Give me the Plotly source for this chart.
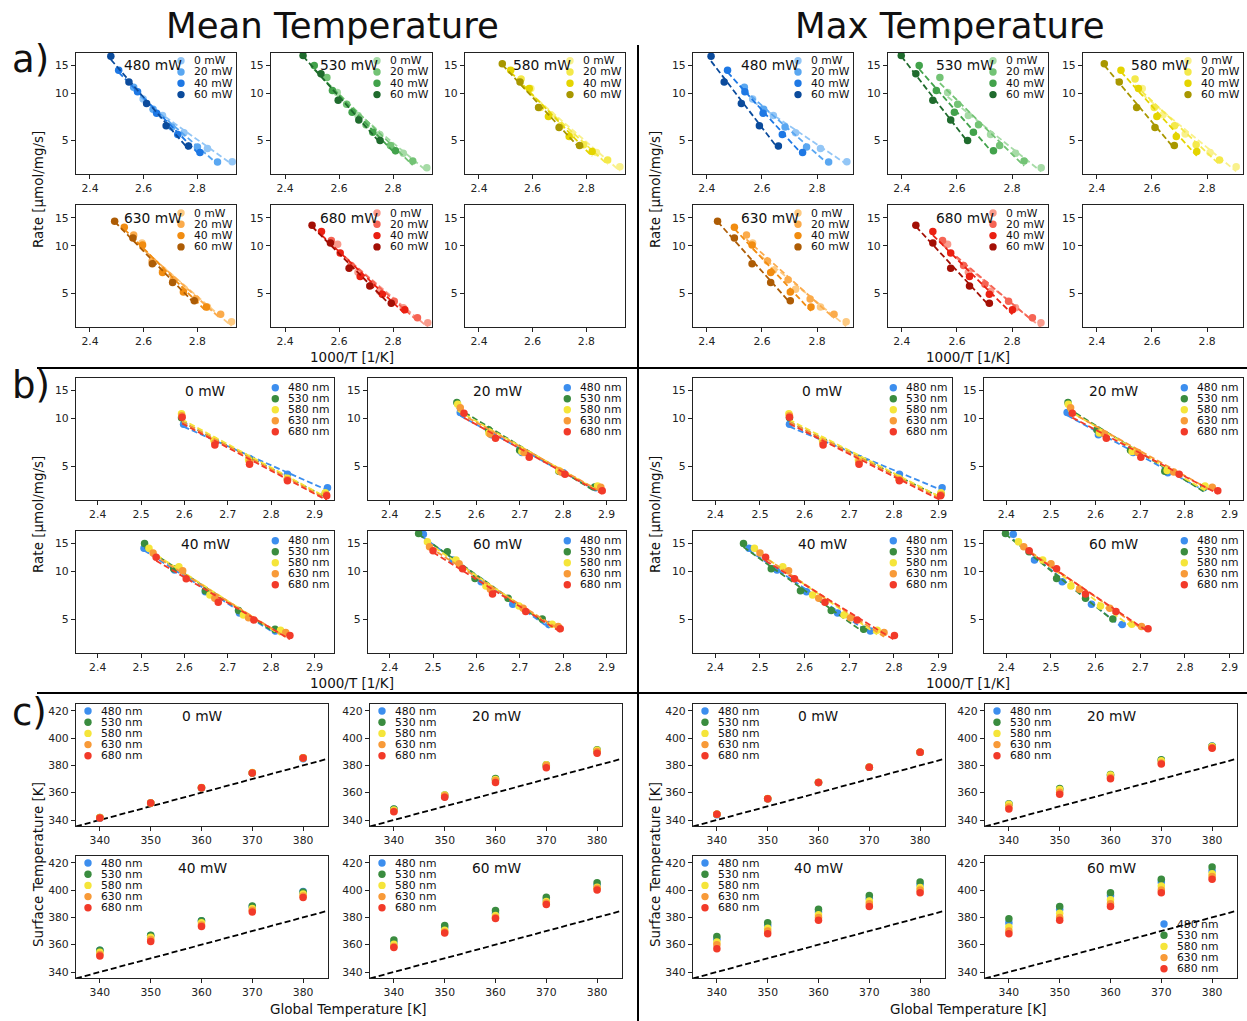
import numpy as np
import plotly.graph_objects as go

W, H = 1247, 1021
FONT = "DejaVu Sans"

# ---------------- data ----------------
GLOBAL_T = [340, 350, 360, 370, 380]
POWERS = [0, 20, 40, 60]
WAVELENGTHS = [480, 530, 580, 630, 680]

# reaction rate [umol/mg/s] at each global temperature
RATE_480 = {0: [3.66, 4.45, 5.6, 7.2, 9.2], 20: [3.65, 4.55, 6.1, 7.9, 10.9],
            40: [4.2, 5.45, 7.45, 10.2, 14.0], 60: [4.62, 6.2, 8.6, 11.8, 17.2]}
RATE_530 = {0: [3.35, 4.15, 5.45, 7.2, 10.1], 20: [3.7, 4.65, 6.3, 8.5, 12.6],
            40: [4.3, 5.65, 7.55, 10.4, 15.0], 60: [5.0, 6.76, 9.03, 13.3, 17.4]}
RATE_580 = {0: [3.4, 4.2, 5.5, 7.3, 10.7], 20: [3.75, 4.7, 6.2, 8.1, 12.3],
            40: [4.25, 5.3, 7.1, 10.7, 14.0], 60: [4.64, 6.05, 8.1, 11.8, 15.4]}
RATE_630 = {0: [3.3, 4.1, 5.3, 7.0, 10.4], 20: [3.68, 4.6, 6.1, 8.0, 11.7],
            40: [4.1, 5.1, 6.76, 10.1, 13.1], 60: [4.48, 5.85, 7.7, 11.2, 14.3]}
RATE_680 = {0: [3.25, 4.05, 5.15, 6.8, 10.2], 20: [3.5, 4.45, 5.7, 7.5, 10.8],
            40: [3.93, 4.93, 6.38, 9.0, 12.3], 60: [4.33, 5.57, 7.2, 10.4, 13.5]}

# mean surface temperature [K]
MEAN_T_480 = {0: [341.3, 352.4, 363.6, 374.5, 384.9], 20: [347.8, 357.1, 369.7, 379.5, 390.2],
              40: [355.9, 366.7, 377.6, 388.0, 398.9], 60: [361.4, 372.6, 383.0, 392.9, 403.6]}
MEAN_T_530 = {0: [341.9, 352.4, 363.6, 374.5, 385.6], 20: [348.1, 358.4, 370.4, 380.5, 391.4],
              40: [356.0, 367.0, 377.6, 388.3, 398.7], 60: [363.4, 374.1, 385.1, 394.8, 405.4]}
MEAN_T_580 = {0: [341.9, 352.4, 363.9, 374.8, 385.6], 20: [347.3, 358.4, 369.7, 380.4, 391.1],
              40: [354.4, 365.5, 376.1, 386.5, 397.1], 60: [360.4, 370.6, 381.4, 391.7, 402.1]}
MEAN_T_630 = {0: [341.6, 352.4, 363.6, 374.5, 385.5], 20: [346.4, 357.8, 369.0, 380.0, 390.2],
              40: [352.9, 363.9, 374.5, 385.2, 395.6], 60: [358.6, 369.3, 379.9, 390.6, 401.3]}
MEAN_T_680 = {0: [341.5, 352.4, 363.6, 374.5, 385.4], 20: [346.0, 356.6, 367.4, 378.2, 388.9],
              40: [351.7, 362.3, 373.4, 384.0, 394.5], 60: [358.0, 368.5, 379.2, 389.4, 400.0]}

# max surface temperature [K]
MAX_T_480 = {0: [343.9, 355.6, 367.4, 378.6, 389.7], 20: [351.9, 362.1, 372.6, 383.7, 394.3],
             40: [364.0, 374.0, 384.0, 394.0, 404.0], 60: [376.0, 386.0, 396.0, 406.0, 414.0]}
MAX_T_530 = {0: [344.2, 355.6, 367.4, 378.6, 389.7], 20: [351.7, 363.0, 373.4, 384.2, 394.0],
             40: [366.0, 376.0, 386.0, 396.0, 406.0], 60: [379.0, 388.0, 398.0, 408.0, 417.0]}
MAX_T_580 = {0: [344.2, 355.8, 367.6, 378.8, 389.9], 20: [351.5, 362.3, 372.9, 383.4, 393.9],
             40: [362.0, 372.0, 382.0, 392.0, 402.0], 60: [373.0, 383.0, 393.0, 403.0, 412.0]}
MAX_T_630 = {0: [344.2, 355.6, 367.4, 378.6, 389.7], 20: [349.5, 360.4, 371.1, 381.7, 393.1],
             40: [360.0, 370.0, 380.0, 390.0, 400.0], 60: [370.0, 380.0, 390.0, 400.0, 410.0]}
MAX_T_680 = {0: [344.3, 355.6, 367.4, 378.6, 389.7], 20: [348.0, 358.8, 370.2, 381.1, 392.5],
             40: [357.0, 368.0, 378.0, 388.0, 398.0], 60: [368.0, 378.0, 388.0, 398.0, 408.0]}

RATES = {480: RATE_480, 530: RATE_530, 580: RATE_580, 630: RATE_630, 680: RATE_680}
MEAN_T = {480: MEAN_T_480, 530: MEAN_T_530, 580: MEAN_T_580, 630: MEAN_T_630, 680: MEAN_T_680}
MAX_T = {480: MAX_T_480, 530: MAX_T_530, 580: MAX_T_580, 630: MAX_T_630, 680: MAX_T_680}

RATE_TICKS = [5, 10, 15]
INV_T_TICKS_A = [2.4, 2.6, 2.8]
INV_T_TICKS_B = [2.4, 2.5, 2.6, 2.7, 2.8, 2.9]
GT_TICKS = [340, 350, 360, 370, 380]
ST_TICKS = [340, 360, 380, 400, 420]

# ---------------- styles ----------------
BASE_COLORS = {480: "#3c8eee", 530: "#3a8c3f", 580: "#f5e53a", 630: "#f89a38", 680: "#f23a29"}
SHADES = {
    480: ["#93c6f6", "#5aa7f1", "#1e78e4", "#0b4b9c"],
    530: ["#a6dba6", "#73c375", "#42a24b", "#1f6b2d"],
    580: ["#f9f18c", "#f4e94a", "#e4d400", "#a89700"],
    630: ["#fdca82", "#fbab4b", "#f18c10", "#ad5c05"],
    680: ["#f99b8d", "#f66454", "#ea2012", "#a30f05"],
}

fig = go.Figure()
layout = {}
annotations = []
shapes = []
ax_n = [0]

TICKFONT = dict(family=FONT, size=10.8, color="#222")


def new_axes(box, xr, yr, ylog, xt, yt):
    ax_n[0] += 1
    n = ax_n[0]
    s = "" if n == 1 else str(n)
    x0, x1, y0, y1 = box
    common = dict(showline=True, mirror=True, linecolor="#222", linewidth=1.2,
                  ticks="outside", ticklen=4, tickwidth=1, tickcolor="#222",
                  showgrid=False, zeroline=False, tickfont=TICKFONT, fixedrange=True)
    layout["xaxis" + s] = dict(domain=[x0 / W, x1 / W], anchor="y" + s, range=xr,
                               tickvals=xt, ticktext=[str(v) for v in xt], **common)
    layout["yaxis" + s] = dict(domain=[1 - y1 / H, 1 - y0 / H], anchor="x" + s,
                               type="log" if ylog else "linear",
                               range=[np.log10(yr[0]), np.log10(yr[1])] if ylog else yr,
                               tickvals=yt, ticktext=[str(v) for v in yt], **common)
    # placeholder so that every axes pair is drawn, even an empty one
    fig.add_trace(go.Scatter(x=[None], y=[None], xaxis="x" + s, yaxis="y" + s,
                             mode="markers", showlegend=False, hoverinfo="skip"))
    return "x" + s, "y" + s


def text(x, y, t, size, xanchor="center", yanchor="middle", angle=0):
    annotations.append(dict(x=x / W, y=1 - y / H, xref="paper", yref="paper", text=t,
                            showarrow=False, xanchor=xanchor, yanchor=yanchor,
                            textangle=angle, font=dict(family=FONT, size=size, color="#111")))


def legend(mx, my, items, spacing=11.3):
    for i, (lab, col) in enumerate(items):
        yy = my + i * spacing
        shapes.append(dict(type="circle", xref="paper", yref="paper",
                           xsizemode="pixel", ysizemode="pixel",
                           xanchor=mx / W, yanchor=1 - yy / H,
                           x0=-3.7, x1=3.7, y0=-3.7, y1=3.7,
                           fillcolor=col, line=dict(width=0)))
        text(mx + 11, yy, lab, 10.8, xanchor="left")


def add_rate_series(xa, ya, temps, rates, color):
    xs = 1000.0 / np.array(temps)
    r = np.array(rates)
    coef = np.polyfit(xs, np.log(r), 1)
    xl = np.array([xs.min(), xs.max()])
    fig.add_trace(go.Scatter(x=xl, y=np.exp(np.polyval(coef, xl)), xaxis=xa, yaxis=ya,
                             mode="lines", line=dict(color=color, width=1.8, dash="6px,3px"),
                             showlegend=False, hoverinfo="skip"))
    fig.add_trace(go.Scatter(x=xs, y=r, xaxis=xa, yaxis=ya, mode="markers",
                             marker=dict(color=color, size=7.5, line=dict(width=0)),
                             showlegend=False))


RATE_YR = [3.06, 18.1]

# ---------------- section a) ----------------
A_COLS = {"mean": [(76, 236), (271, 432), (465, 625)], "max": [(693, 853), (888, 1048), (1083, 1243)]}
A_ROWS = [(52.7, 174), (205, 327)]
for side, TT, xr in (("mean", MEAN_T, [2.348, 2.944]), ("max", MAX_T, [2.35, 2.93])):
    for k in range(6):
        r, c = divmod(k, 3)
        x0, x1 = A_COLS[side][c]
        y0, y1 = A_ROWS[r]
        xa, ya = new_axes((x0, x1, y0, y1), xr, RATE_YR, True, INV_T_TICKS_A, RATE_TICKS)
        if k >= len(WAVELENGTHS):
            continue
        wl = WAVELENGTHS[k]
        for i, p in enumerate(POWERS):
            add_rate_series(xa, ya, TT[wl][p], RATES[wl][p], SHADES[wl][i])
        text((x0 + x1) / 2 - 3, y0 + 12.5, f"{wl} mW", 13.8)
        legend(x1 - 55, y0 + 8, [(f"{p} mW", SHADES[wl][i]) for i, p in enumerate(POWERS)])

# ---------------- section b) ----------------
B_COLS = {"mean": [(76, 334), (368, 626)], "max": [(693, 952), (984, 1243)]}
B_ROWS = [(377.7, 500), (530.7, 652.7)]
for side, TT, xr in (("mean", MEAN_T, [2.35, 2.945]), ("max", MAX_T, [2.35, 2.93])):
    for k, p in enumerate(POWERS):
        r, c = divmod(k, 2)
        x0, x1 = B_COLS[side][c]
        y0, y1 = B_ROWS[r]
        xa, ya = new_axes((x0, x1, y0, y1), xr, RATE_YR, True, INV_T_TICKS_B, RATE_TICKS)
        for wl in WAVELENGTHS:
            add_rate_series(xa, ya, TT[wl][p], RATES[wl][p], BASE_COLORS[wl])
        text((x0 + x1) / 2, y0 + 13, f"{p} mW", 13.8)
        legend(x1 - 58.7, y0 + 10, [(f"{wl} nm", BASE_COLORS[wl]) for wl in WAVELENGTHS], 11)

# ---------------- section c) ----------------
C_COLS = {"mean": [(76, 328), (370, 622)], "max": [(693, 945), (985, 1237)]}
C_ROWS = [(704, 826), (856, 978)]
C_XR = [335.3, 384.9]
C_YR = [335.6, 425.0]
for side, TT in (("mean", MEAN_T), ("max", MAX_T)):
    for k, p in enumerate(POWERS):
        r, c = divmod(k, 2)
        x0, x1 = C_COLS[side][c]
        y0, y1 = C_ROWS[r]
        xa, ya = new_axes((x0, x1, y0, y1), C_XR, C_YR, False, GT_TICKS, ST_TICKS)
        fig.add_trace(go.Scatter(x=C_XR, y=C_XR, xaxis=xa, yaxis=ya, mode="lines",
                                 line=dict(color="black", width=1.8, dash="6px,3px"),
                                 showlegend=False, hoverinfo="skip"))
        for wl in WAVELENGTHS:
            fig.add_trace(go.Scatter(x=GLOBAL_T, y=TT[wl][p], xaxis=xa, yaxis=ya, mode="markers",
                                     marker=dict(color=BASE_COLORS[wl], size=7.5, line=dict(width=0)),
                                     showlegend=False))
        text(x0 + (x1 - x0) * 0.5, y0 + 12, f"{p} mW", 13.8)
        items = [(f"{wl} nm", BASE_COLORS[wl]) for wl in WAVELENGTHS]
        if side == "max" and p == 60:
            legend(x1 - 73, y0 + 68, items, 11.2)
        else:
            legend(x0 + 12, y0 + 7, items, 11.2)

# ---------------- figure-level text ----------------
text(332, 25, "Mean Temperature", 35.5)
text(950, 25, "Max Temperature", 35.5)
text(10, 60, "a)", 37, xanchor="left")
text(10, 385, "b)", 37, xanchor="left")
text(10, 712, "c)", 37, xanchor="left")
for cx, cy in ((38, 190), (655, 190), (38, 515), (655, 515)):
    text(cx, cy, "Rate [\u03bcmol/mg/s]", 13.5, angle=-90)
for cx in (38, 655):
    text(cx, 865, "Surface Temperature [K]", 13.5, angle=-90)
for cx, cy in ((352, 357), (968, 357), (352, 683), (968, 683)):
    text(cx, cy, "1000/T [1/K]", 13.5)
for cx in (348, 968):
    text(cx, 1009, "Global Temperature [K]", 13.5)

# separators
shapes.append(dict(type="line", xref="paper", yref="paper", x0=638 / W, x1=638 / W,
                   y0=1 - 45 / H, y1=0, line=dict(color="black", width=2)))
for yy in (368, 693):
    shapes.append(dict(type="line", xref="paper", yref="paper", x0=37 / W, x1=1,
                       y0=1 - yy / H, y1=1 - yy / H, line=dict(color="black", width=2)))

fig.update_layout(width=W, height=H, margin=dict(l=0, r=0, t=0, b=0),
                  paper_bgcolor="white", plot_bgcolor="white", showlegend=False,
                  annotations=annotations, shapes=shapes, **layout)
fig.write_html("out.html")
